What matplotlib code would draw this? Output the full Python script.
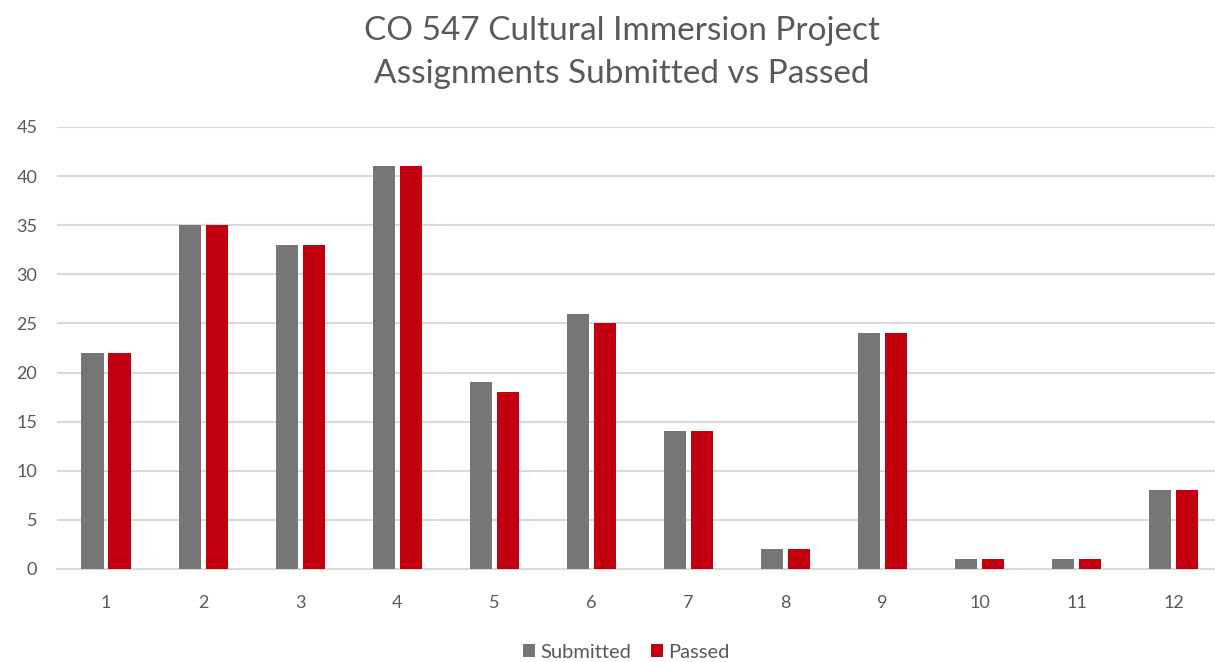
import matplotlib
matplotlib.use("Agg")
import matplotlib.pyplot as plt
import numpy as np

categories = ["1", "2", "3", "4", "5", "6", "7", "8", "9", "10", "11", "12"]
submitted = [22, 35, 33, 41, 19, 26, 14, 2, 24, 1, 1, 8]
passed = [22, 35, 33, 41, 18, 25, 14, 2, 24, 1, 1, 8]
yticks = [0, 5, 10, 15, 20, 25, 30, 35, 40, 45]
title_lines = ["CO 547 Cultural Immersion Project", "Assignments Submitted vs Passed"]

plt.rcParams['font.family'] = ['Lato', 'DejaVu Sans']

fig = plt.figure(figsize=(12.15, 6.62), dpi=100)
ax = fig.add_axes([0.0473, 0.1405, 0.9588, 0.6677])

x = np.arange(len(categories))
w = 0.227
off = 0.139
ax.bar(x - off, submitted, width=w, color="#767676", label="Submitted", zorder=3)
ax.bar(x + off, passed, width=w, color="#C3000F", label="Passed", zorder=3)

ax.set_xlim(-0.5, len(categories) - 0.5)
ax.set_ylim(0, 45)
ax.set_yticks(yticks)
ax.set_xticks(x)
ax.set_xticklabels(categories)
ax.yaxis.grid(True, color="#d9d9d9", linewidth=1.5, zorder=0)
ax.set_axisbelow(True)
for s in ["top", "right", "left"]:
    ax.spines[s].set_visible(False)
ax.spines["bottom"].set_color("#d9d9d9")
ax.spines["bottom"].set_linewidth(1.5)
ax.tick_params(axis="both", length=0, labelsize=13, labelcolor="#595959")
ax.tick_params(axis="x", pad=19)
ax.tick_params(axis="y", pad=14.5)

fig.text(0.512, 1 - 40 / 662, title_lines[0], ha="center", va="baseline",
         fontsize=24, color="#595959")
fig.text(0.512, 1 - 83 / 662, title_lines[1], ha="center", va="baseline",
         fontsize=24, color="#595959")

fig.legend(loc="center", bbox_to_anchor=(0.5157, 0.015), ncol=2, frameon=False,
           fontsize=14.5, labelcolor="#595959", handlelength=0.6, handleheight=0.6,
           handletextpad=0.25, columnspacing=1.0, borderaxespad=0, borderpad=0)

fig.savefig("out.png", dpi=100, facecolor="white")
